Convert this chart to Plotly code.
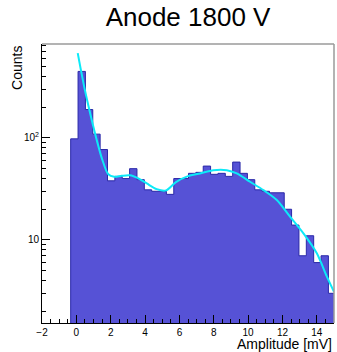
import numpy as np
import plotly.graph_objects as go

# Amplitude spectrum, anode at 1800 V
counts = [98, 449, 190, 109, 77, 38, 42, 40, 50, 39, 31, 30,
          30, 28, 40, 40, 45, 46, 53, 44, 45, 42, 58, 45,
          39, 31, 30, 29, 29, 20, 14, 7, 11, 6, 7, 3]
bin_low = -0.33          # mV, lower edge of first bin
bin_width = 0.4287       # mV
n_bins = len(counts)

# fitted spectrum shape, sampled along amplitude
fit_x = [0.08, 0.27, 0.50, 0.90, 1.19, 1.50, 1.86, 2.20, 2.64, 3.12, 3.61, 4.10,
         4.68, 5.22, 5.80, 6.50, 7.20, 7.98, 8.76, 9.34, 10.11, 10.89, 11.67,
         12.44, 13.22, 14.00, 14.58, 15.00]
fit_y = [678, 459, 293, 149, 95, 62, 44, 41.6, 42.5, 43, 40.1, 35.8,
         31.5, 30.6, 36.9, 42.3, 44.9, 48.3, 48.3, 44.9, 37.2, 30.8, 24.6,
         16.9, 11.6, 7.4, 4.4, 3.1]

x_ticks = [-2, 0, 2, 4, 6, 8, 10, 12, 14]
y_ticks = [10, 100]
y_ticktext = ["10", "10<sup>2</sup>"]
y_minor = [2, 3, 4, 5, 6, 7, 8, 9, 20, 30, 40, 50, 60, 70, 80, 90,
           200, 300, 400, 500, 600, 700, 800]

edges = bin_low + bin_width * np.arange(n_bins + 1)

# histogram outline as a closed step polygon down to below the axis floor
floor = 1.0
hx = [edges[0]]
hy = [floor]
for k, c in enumerate(counts):
    hx += [edges[k], edges[k + 1]]
    hy += [c, c]
hx.append(edges[-1])
hy.append(floor)

fig = go.Figure()
fig.add_trace(go.Scatter(
    x=hx, y=hy, mode="lines", fill="toself",
    fillcolor="#5652D6", line=dict(color="#2A28A8", width=1),
    hoverinfo="skip", showlegend=False))
fig.add_trace(go.Scatter(
    x=fit_x, y=fit_y, mode="lines",
    line=dict(color="#0CEAF8", width=2, shape="spline", smoothing=0.8),
    showlegend=False))

tick_font = dict(family="Liberation Sans, Arial, sans-serif", size=10, color="black")

fig.update_xaxes(
    range=[-2, 15], tickvals=x_ticks, ticks="inside", ticklen=8,
    tickcolor="black", tickwidth=1, showline=True, linecolor="black",
    linewidth=1, mirror=False, showgrid=False, zeroline=False,
    tickfont=tick_font,
    minor=dict(dtick=0.5, tick0=0, ticks="inside", ticklen=4,
               tickcolor="black", showgrid=False))
fig.update_yaxes(
    type="log", range=[0.186, 2.921], tickvals=y_ticks, ticktext=y_ticktext,
    ticks="inside", ticklen=8, tickcolor="black", tickwidth=1,
    showline=True, linecolor="black", linewidth=1, mirror=False,
    showgrid=False, zeroline=False, tickfont=tick_font,
    minor=dict(tickvals=y_minor, ticks="inside", ticklen=4,
               tickcolor="black", showgrid=False))

fig.add_shape(type="line", xref="paper", yref="paper", x0=0, x1=1, y0=1, y1=1,
              line=dict(color="#9a9a9a", width=1.5), layer="above")
fig.add_shape(type="line", xref="paper", yref="paper", x0=1, x1=1, y0=0, y1=1,
              line=dict(color="#9a9a9a", width=1.5), layer="above")

label_font = dict(family="Liberation Sans, Arial, sans-serif", size=14, color="black")
fig.add_annotation(text="Counts", xref="paper", yref="paper",
                   x=-0.086, y=1.0, xanchor="center", yanchor="top",
                   textangle=-90, showarrow=False, font=label_font)
fig.add_annotation(text="Amplitude [mV]", xref="paper", yref="paper",
                   x=1.0, y=-0.077, xanchor="right", yanchor="middle",
                   showarrow=False, font=label_font)

fig.update_layout(
    width=337, height=352,
    margin=dict(l=42, r=3, t=44, b=29),
    paper_bgcolor="white", plot_bgcolor="white",
    title=dict(text="Anode 1800 V", x=0.558, xanchor="center",
               y=0.952, yanchor="middle",
               font=dict(family="Liberation Sans, Arial, sans-serif",
                         size=26, color="black")),
)

fig.write_html("out.html")
